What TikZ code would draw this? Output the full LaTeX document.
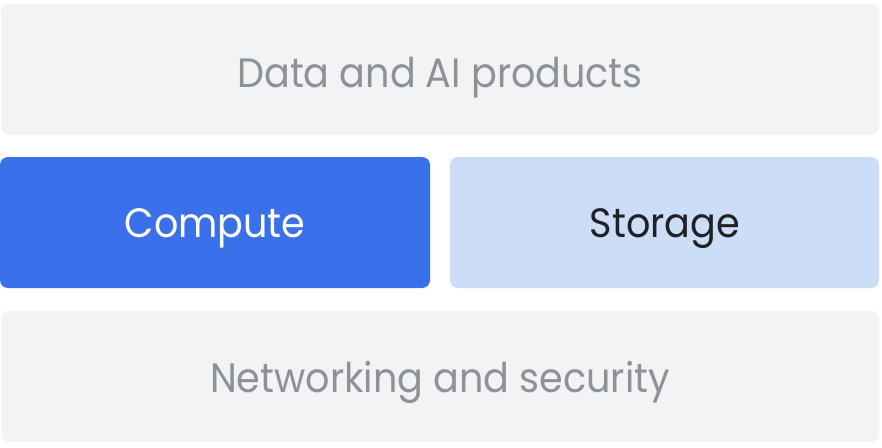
\documentclass[tikz,border=0pt]{standalone}
\usepackage{fontspec}
\setmainfont{Poppins}[FakeStretch=0.93]
\definecolor{boxgray}{HTML}{F1F3F4}
\definecolor{txtgray}{HTML}{8E9296}
\definecolor{cblue}{HTML}{3A71EB}
\definecolor{sblue}{HTML}{CCDDF8}
\definecolor{txtdark}{HTML}{202124}
\begin{document}
\begin{tikzpicture}[x=1pt,y=-1pt,
  label text/.style={anchor=base, inner sep=0pt, font=\fontsize{41}{48}\selectfont},
  layerbox/.style={rounded corners=8pt}]
\useasboundingbox[fill=white] (0,0) rectangle (882,447);
\fill[boxgray, layerbox] (1,4) rectangle (879,135);
\node[label text, txtgray] (data) at (440,87) {Data and AI products};
\fill[cblue, layerbox] (0,157) rectangle (430,288);
\node[label text, white] (compute) at (215,237) {Compute};
\fill[sblue, layerbox] (450,157) rectangle (879,288);
\node[label text, txtdark] (storage) at (665,237) {Storage};
\fill[boxgray, layerbox] (1,311) rectangle (879,442);
\node[label text, txtgray] (net) at (440,392) {Networking and security};
\end{tikzpicture}
\end{document}
